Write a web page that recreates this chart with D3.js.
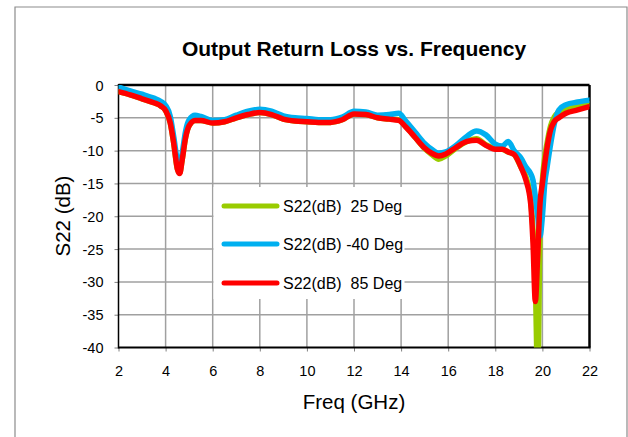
<!DOCTYPE html>
<html><head><meta charset="utf-8">
<script src="https://cdn.jsdelivr.net/npm/d3@7"></script>
<style>body{margin:0;background:#fff;} text{font-family:"Liberation Sans",Arial,sans-serif;}</style>
</head><body>
<svg id="c" width="628" height="437"></svg>
<script>
const freq = [2,2.5,3,3.5,3.8,4.0,4.2,4.35,4.5,4.6,4.7,4.85,5.0,5.25,5.5,6,6.5,7,7.5,8,8.5,9,9.5,10,10.5,11,11.5,12,12.5,13,13.5,13.9,14.2,14.6,15,15.3,15.6,15.9,16.3,16.8,17.2,17.6,18.0,18.3,18.55,18.8,19.1,19.3,19.5,19.6,19.7,19.8,19.9,20.0,20.1,20.2,20.35,20.5,20.7,21.0,21.5,22];
const s22_25 = [-1.0,-1.5,-2.1,-2.7,-3.2,-3.9,-5.8,-9.0,-12.8,-13.4,-11.5,-8.0,-6.2,-5.4,-5.4,-5.8,-5.6,-5.0,-4.5,-4.2,-4.5,-5.2,-5.5,-5.6,-5.7,-5.7,-5.3,-4.4,-4.5,-5.0,-5.2,-5.3,-6.3,-8.0,-9.7,-10.6,-11.3,-10.8,-9.7,-8.6,-8.2,-9.1,-9.7,-9.8,-10.2,-10.6,-12.6,-14.0,-17.5,-22,-30,-45,-22,-14.5,-11,-8.8,-6.2,-4.9,-4.1,-3.5,-3.1,-2.9];
const s22_m40 = [-0.3,-0.9,-1.4,-2.0,-2.5,-3.1,-4.8,-8.0,-11.5,-12.4,-10.5,-7.0,-5.3,-4.6,-4.8,-5.4,-5.3,-4.6,-4.0,-3.7,-4.0,-4.7,-5.0,-5.1,-5.3,-5.3,-4.9,-4.0,-4.1,-4.6,-4.5,-4.3,-5.5,-7.2,-8.9,-9.8,-10.4,-10.2,-9.3,-7.8,-7.0,-7.6,-9.0,-9.3,-8.6,-10.0,-11.2,-12.5,-13.5,-14.5,-17,-20,-23,-20,-15,-12.5,-9,-6,-3.8,-3.0,-2.6,-2.3];
const s22_85 = [-1.0,-1.5,-2.1,-2.7,-3.2,-3.9,-5.8,-9.0,-12.8,-13.5,-11.5,-8.0,-6.2,-5.4,-5.4,-5.8,-5.6,-5.0,-4.5,-4.2,-4.5,-5.2,-5.5,-5.6,-5.7,-5.7,-5.3,-4.4,-4.5,-5.0,-5.2,-5.4,-6.4,-8.0,-9.6,-10.4,-10.8,-10.5,-9.6,-8.6,-8.4,-9.2,-9.8,-9.8,-10.2,-10.6,-12.6,-14.5,-18,-24,-33,-26,-18,-15,-12,-9.5,-6.8,-5.6,-5.0,-4.3,-3.8,-3.3];
const seriesNames = ["S22(dB)  25 Deg","S22(dB) -40 Deg","S22(dB)  85 Deg"];
const seriesColors = ["#99CC00","#00B0F0","#FF0000"];
const xTicks = [2,4,6,8,10,12,14,16,18,20,22];
const yTicks = [0,-5,-10,-15,-20,-25,-30,-35,-40];
const title = "Output Return Loss vs. Frequency";
const xLabel = "Freq (GHz)";
const yLabel = "S22 (dB)";

const svg = d3.select("#c");
const L = 118.5, R = 589.5, T = 85, B = 347.5;
const x = d3.scaleLinear().domain([2,22]).range([L,R]);
const y = d3.scaleLinear().domain([-40,0]).range([B,T]);

// outer border
svg.append("path").attr("d","M15,437 L15,7 L627,7 L627,437").attr("fill","none").attr("stroke","#8c8c8c").attr("stroke-width",1.2);

// grid
const g = svg.append("g");
g.selectAll(".gx").data(xTicks.slice(1,-1)).join("line")
  .attr("x1",d=>x(d)).attr("x2",d=>x(d)).attr("y1",T).attr("y2",B)
  .attr("stroke","#a0a0a0").attr("stroke-width",1.5);
g.selectAll(".gy").data(yTicks.slice(1,-1)).join("line")
  .attr("x1",L).attr("x2",R).attr("y1",d=>y(d)).attr("y2",d=>y(d))
  .attr("stroke","#a0a0a0").attr("stroke-width",1.5);

// axes
const xAxis = svg.append("g").attr("transform",`translate(0,${B})`)
  .call(d3.axisBottom(x).tickValues(xTicks).tickSize(4).tickFormat(d3.format("d")));
const yAxis = svg.append("g").attr("transform",`translate(${L},0)`)
  .call(d3.axisLeft(y).tickValues(yTicks).tickSize(4).tickFormat(d=>String(d)));
[xAxis,yAxis].forEach(a=>{
  a.select(".domain").remove();
  a.selectAll(".tick line").attr("stroke","#808080").attr("stroke-width",1);
  a.selectAll("text").attr("font-size",14.5).attr("fill","#000").attr("font-family","Liberation Sans, Arial, sans-serif");
});
xAxis.selectAll("text").attr("y",28).attr("dy",0);
yAxis.selectAll("text").attr("x",-15).attr("dy","0.35em");

// plot frame
svg.append("line").attr("x1",L).attr("x2",R).attr("y1",T).attr("y2",T).attr("stroke","#000").attr("stroke-width",2.5);
svg.append("line").attr("x1",R).attr("x2",R).attr("y1",T).attr("y2",B).attr("stroke","#000").attr("stroke-width",2.5);
svg.append("line").attr("x1",L).attr("x2",L).attr("y1",T-1).attr("y2",B+1).attr("stroke","#000").attr("stroke-width",1.5);
svg.append("line").attr("x1",L).attr("x2",R+1).attr("y1",B).attr("y2",B).attr("stroke","#000").attr("stroke-width",2);

// clip
svg.append("clipPath").attr("id","clip").append("rect").attr("x",L).attr("y",T).attr("width",R-L).attr("height",B-T);

const line = d3.line().x((d,i)=>x(freq[i])).y(d=>y(d)).curve(d3.curveMonotoneX);
const data = [s22_25, s22_m40, s22_85];
svg.append("g").attr("clip-path","url(#clip)").selectAll("path").data(data).join("path")
  .attr("d",line).attr("fill","none").attr("stroke",(d,i)=>seriesColors[i])
  .attr("stroke-width",5.5).attr("stroke-linejoin","round").attr("stroke-linecap","round");

// legend
const lg = svg.append("g");
lg.append("rect").attr("x",213.5).attr("y",187).attr("width",191).attr("height",112).attr("fill","#fff");
const rowsY = [206,244,283];
seriesNames.forEach((n,i)=>{
  lg.append("line").attr("x1",224).attr("x2",277).attr("y1",rowsY[i]).attr("y2",rowsY[i])
    .attr("stroke",seriesColors[i]).attr("stroke-width",5).attr("stroke-linecap","round");
  lg.append("text").attr("x",283).attr("y",rowsY[i]+5.5).attr("font-size",16).attr("fill","#000")
    .style("white-space","pre").text(n);
});

// titles
svg.append("text").attr("x",354).attr("y",56).attr("text-anchor","middle").attr("font-size",21).attr("font-weight","bold").text(title);
svg.append("text").attr("x",354).attr("y",409).attr("text-anchor","middle").attr("font-size",20.5).text(xLabel);
svg.append("text").attr("transform","translate(70,216) rotate(-90)").attr("text-anchor","middle").attr("font-size",20.5).text(yLabel);
</script>
</body></html>
